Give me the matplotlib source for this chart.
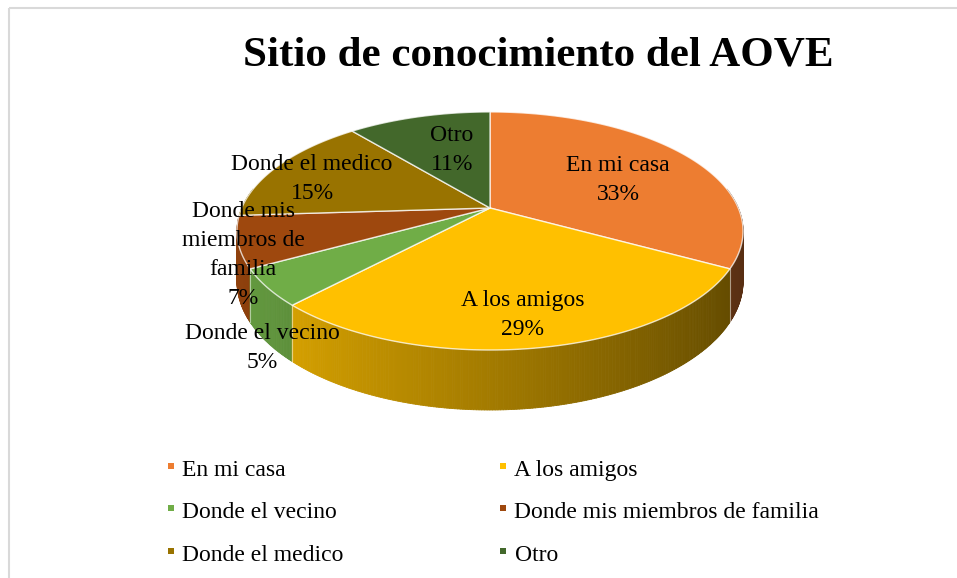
import numpy as np
import matplotlib
matplotlib.use("Agg")
import matplotlib.pyplot as plt
from matplotlib.collections import PolyCollection
from matplotlib.patches import Polygon, Rectangle
from matplotlib.colors import to_rgb

# ---------------- data ----------------
title = "Sitio de conocimiento del AOVE"
categories = ["En mi casa", "A los amigos", "Donde el vecino",
              "Donde mis miembros de familia", "Donde el medico", "Otro"]
pie_text = ["En mi casa", "A los amigos", "Donde el vecino",
            "Donde mis\nmiembros de\nfamilia", "Donde el medico", "Otro"]
values = [33, 29, 5, 7, 15, 11]
colors = ["#ED7D31", "#FFC000", "#70AD47", "#9E480E", "#997300", "#43682B"]

# label anchor positions (pixels)
label_pos = [(618, 180), (523, 315), (262, 348), (243, 255), (312, 179), (452, 150)]

# ---------------- figure ----------------
W, H = 957, 578
fig = plt.figure(figsize=(W / 100, H / 100), dpi=100)
ax = fig.add_axes([0, 0, 1, 1])
ax.set_xlim(0, W)
ax.set_ylim(H, 0)
ax.axis("off")

SERIF = ["Liberation Serif", "DejaVu Serif"]

# chart-area border
ax.add_patch(Rectangle((9, 8), W + 20, H + 20, fill=False, ec="#D9D9D9", lw=1.5, zorder=0))

# perspective-projected 3D pie geometry
CX, CY = 490.0, 208.0
A, B, K, D = 248.3, 114.6, 0.193, 48.4


def proj(theta_deg):
    t = np.radians(theta_deg)
    u, v = np.sin(t), np.cos(t)
    w = 1 + K * v
    return CX + A * u / w, CY - B * v / w, D / w, u, v


total = float(sum(values))
bounds = np.concatenate([[0], np.cumsum(values)]) / total * 360.0


def shade(c, u):
    f = np.clip(0.64 - 0.28 * u, 0.37, 0.92)
    r, g, b = to_rgb(c)
    return (r * f, g * f, b * f)


# side walls
quads, qcols, qdepth = [], [], []
for i in range(len(values)):
    t0, t1 = bounds[i], bounds[i + 1]
    n = max(2, int((t1 - t0) / 0.5))
    ts = np.linspace(t0, t1, n + 1)
    for a0, a1 in zip(ts[:-1], ts[1:]):
        mid = 0.5 * (a0 + a1)
        if not (80 <= mid <= 280):
            continue
        x0, y0, d0, _, _ = proj(a0)
        x1, y1, d1, _, _ = proj(a1)
        _, _, _, um, vm = proj(mid)
        quads.append([(x0, y0), (x1, y1), (x1, y1 + d1), (x0, y0 + d0)])
        qcols.append(shade(colors[i], um))
        qdepth.append(vm)
order = np.argsort(-np.array(qdepth))
quads = [quads[j] for j in order]
qcols = [qcols[j] for j in order]
ax.add_collection(PolyCollection(quads, facecolors=qcols, edgecolors=qcols,
                                 linewidths=0.6, zorder=2))

# side boundary lines
for b in bounds[1:-1]:
    if 101 <= b <= 259:
        x, y, d, _, _ = proj(b)
        ax.plot([x, x], [y, y + d], color="white", alpha=0.5, lw=0.8, zorder=3)

# top faces
for i in range(len(values)):
    t0, t1 = bounds[i], bounds[i + 1]
    ts = np.linspace(t0, t1, max(3, int((t1 - t0) / 0.5)))
    pts = [(CX, CY)] + [proj(t)[:2] for t in ts]
    ax.add_patch(Polygon(pts, closed=True, fc=colors[i], ec=(1, 1, 1, 0.75),
                         lw=1.0, joinstyle="round", zorder=4))

# data labels
for txt, v, (x, y) in zip(pie_text, values, label_pos):
    ax.text(x, y, f"{txt}\n{v}%", ha="center", va="center", fontsize=17,
            family=SERIF, color="black", linespacing=1.5, zorder=6)

# title
ax.text(538, 55, title, ha="center", va="center", fontsize=31,
        fontweight="bold", family=SERIF, color="black")

# legend (row-major, 2 columns)
col_x = [170.5, 503]
row_y = [466, 508, 551]
for i, (name, c) in enumerate(zip(categories, colors)):
    r, col = divmod(i, 2)
    ax.scatter([col_x[col]], [row_y[r]], marker="s", s=22, color=c, lw=0, zorder=6)
    ax.text(col_x[col] + 11.5, row_y[r] + 10, name, ha="left", va="baseline",
            fontsize=17, family=SERIF, color="black")

fig.savefig("out.png", dpi=100)
